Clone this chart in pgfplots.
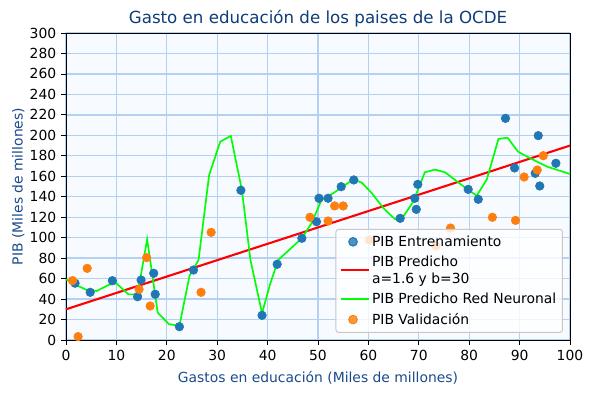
\documentclass[border=0pt]{standalone}
\usepackage{pgfplots}
\pgfplotsset{compat=1.18}
\usepackage{fontspec}
\setmainfont{DejaVu Sans}
\definecolor{tblue}{HTML}{1F77B4}
\definecolor{torange}{HTML}{FF7F0E}
\definecolor{navy}{HTML}{0D3C78}
\definecolor{lblnavy}{HTML}{1A4A8C}
\definecolor{bgc}{HTML}{F7FAFF}
\definecolor{gridc}{HTML}{B3D1F2}
\definecolor{lime}{HTML}{00FF00}
\pgfplotsset{longline/.style={legend image code/.code={\draw[##1] (0pt,0pt) -- (20pt,0pt);}}}
\begin{document}
\begin{tikzpicture}[x=1pt,y=1pt]
\begin{axis}[name=ax,
  scale only axis,
  width=362.88pt, height=221.04pt,
  xmin=0, xmax=100, ymin=0, ymax=300,
  xtick={0,10,...,100}, ytick={0,20,...,300},
  grid=major,
  major grid style={draw=gridc, line width=1pt},
  axis background/.style={fill=bgc},
  axis line style={black, line width=0.6pt},
  tick style={black, line width=0.6pt},
  tick align=outside, major tick length=3.5pt,
  xtick pos=bottom, ytick pos=left,
  tick label style={font=\fontsize{10}{12}\selectfont},
  /pgf/number format/assume math mode=true,
  title={Gasto en educación de los paises de la OCDE},
  title style={font=\fontsize{12}{14}\selectfont, text=navy, yshift=-5pt},
  xlabel={Gastos en educación (Miles de millones)},
  ylabel={PIB (Miles de millones)},
  label style={font=\fontsize{10}{12}\selectfont, text=lblnavy},
  xlabel style={yshift=-1pt},
  ylabel style={yshift=-3pt},
  legend cell align=left,
  legend style={font=\fontsize{10}{12}\selectfont, fill=white, fill opacity=0.8, draw opacity=1, text opacity=1, draw=black!22, line width=0.7pt, rounded corners=2pt, at={(0.986,0.023)}, anchor=south east, row sep=2.5pt, inner sep=3pt, nodes={align=left, inner sep=1.5pt}},
  clip=false,
]
\addplot[only marks, mark=*, mark size=3.1pt, color=tblue, mark options={draw=tblue, fill=tblue}] coordinates {
(1.8,55.5) (4.8,46.6) (9.2,58) (14.2,42.3) (14.9,58.6) (17.4,65.2) (17.7,44.7)
(22.5,13.0) (25.3,68.4) (34.7,146.3) (38.9,24.1) (41.9,74.0) (46.8,99.4)
(49.7,115.6) (50.2,138.5) (52.0,138.5) (54.6,149.8) (57.1,156.4) (66.3,118.9)
(69.2,138.5) (69.5,127.7) (69.8,152.1) (79.8,147.2) (81.8,137.5) (87.2,216.6)
(89.0,168.1) (93.1,162.9) (93.7,199.7) (94.0,150.5) (97.2,172.7)
};
\addlegendentry{PIB Entrenamiento}
\addplot[red, line width=1.5pt, no marks, longline] coordinates {(0,30) (100,190)};
\addlegendentry{PIB Predicho\\a=1.6 y b=30}
\addplot[lime, line width=1.2pt, no marks, longline] coordinates {
(0,59.3) (2.0,53.7) (4.1,48.9) (6.1,47.9) (8.4,53.7) (10.0,55.4) (12.4,44.6)
(14.2,44.6) (16.1,98.4) (18.2,26.7) (20.4,15.6) (22.5,13.7) (24.5,62.5)
(26.3,78.2) (28.4,161.2) (30.6,193.8) (32.7,199.4) (34.9,146.6) (36.6,78.2)
(38.9,26.1) (40.5,54.7) (42.1,78.2) (46.8,99.4) (48.7,114) (50.7,136.8)
(53.0,143.4) (57.0,157.0) (58.7,153.7) (60.7,143.4) (63.0,128.7) (65.3,117.9)
(66.9,120.5) (68.9,135.1) (71.2,163.9) (73.2,166.5) (75.2,163.9) (79.8,146.6)
(81.5,141.1) (83.5,157.0) (85.8,196.4) (87.6,197.7) (89.7,184.0) (92.1,177.6)
(95.4,169.5) (100,162.2)
};
\addlegendentry{PIB Predicho Red Neuronal}
\addplot[only marks, mark=*, mark size=3.1pt, color=torange, mark options={draw=torange, fill=torange}] coordinates {
(1.3,58.0) (4.2,70.0) (2.4,3.3) (16.0,80.5) (14.5,49.5) (16.7,33.2) (26.8,46.6)
(28.8,105.2) (48.4,119.9) (52.0,116.3) (53.3,131.0) (55.0,131.0) (60.2,97.7)
(73.4,91.9) (76.3,109.4) (84.6,119.9) (89.2,116.9) (90.9,159.3) (93.5,166.1)
(94.7,180.1)
};
\addlegendentry{PIB Validación}
\end{axis}
\pgfresetboundingbox
\path[use as bounding box] ([xshift=-47.52pt,yshift=-38.88pt]ax.south west) rectangle ([xshift=15.84pt,yshift=23.76pt]ax.north east);
\end{tikzpicture}
\end{document}
